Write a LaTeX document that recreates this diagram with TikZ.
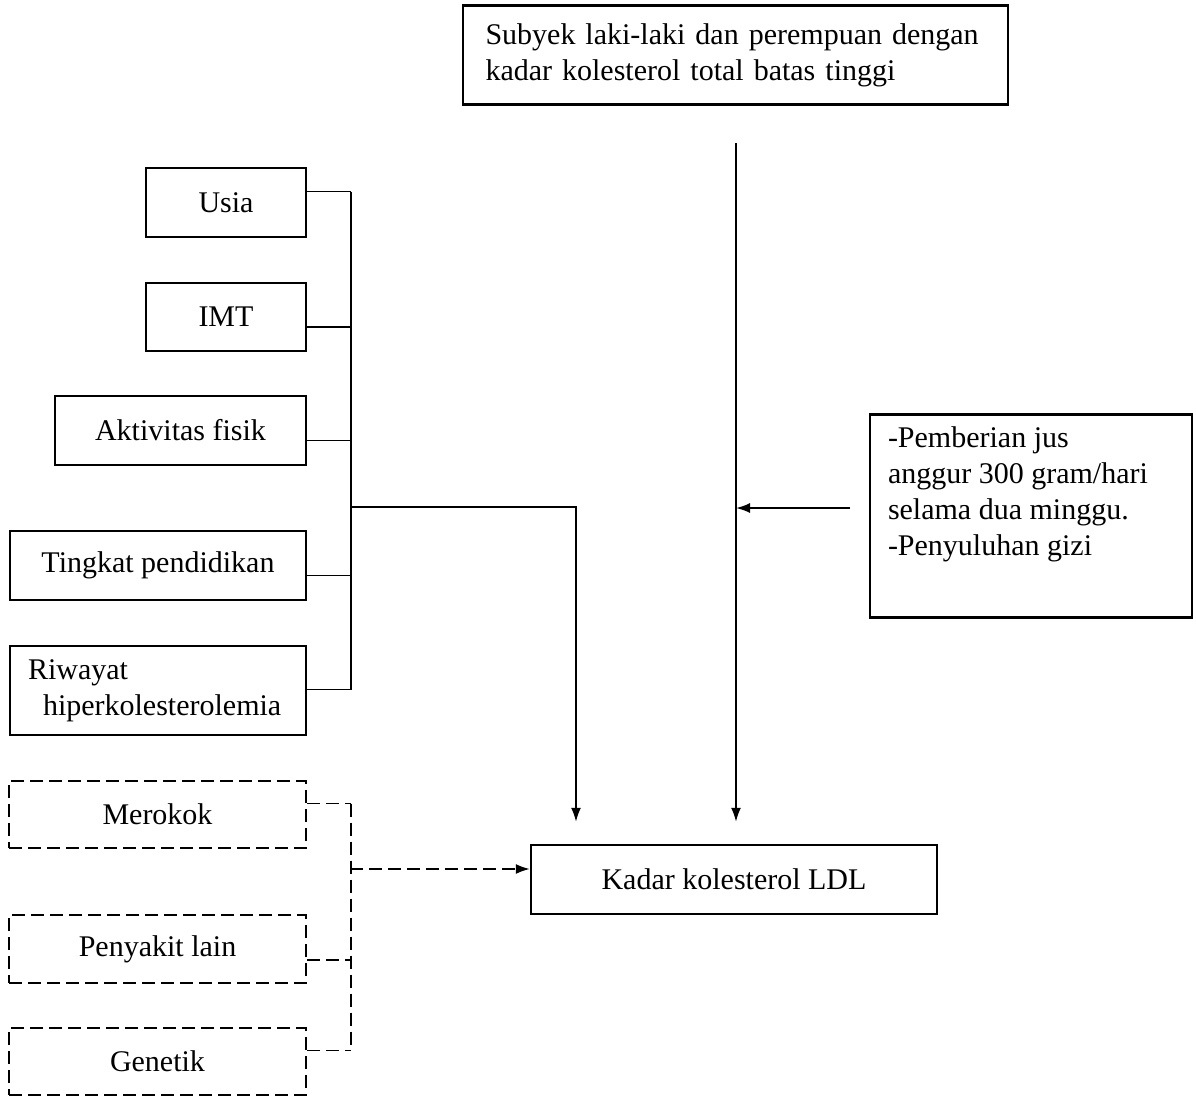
\documentclass[tikz,border=0pt]{standalone}
\usepackage{fontspec}
\setmainfont{Liberation Serif}
\usetikzlibrary{arrows.meta,calc}

\tikzset{
    kotak/.style={draw, line width=1.2pt, font=\fontsize{15}{18}\selectfont, inner sep=0pt},
    kotakputus/.style={kotak, dash pattern=on 6.5pt off 3pt},
    garis/.style={line width=0.9pt},
    putus/.style={garis, dash pattern=on 6.5pt off 3pt},
    panah/.style={-{Latex[length=7pt,width=5pt]}}
}

\begin{document}
\begin{tikzpicture}[x=0.5pt, y=-0.5pt]
    \useasboundingbox (0,0) rectangle (1196,1104);
    % kotak utama
    \node[kotak, minimum width=272.5pt, minimum height=49.5pt, text width=250pt, align=left](subyek) at (735.5,55){Subyek laki-laki dan perempuan dengan\\kadar kolesterol total batas tinggi};
    \node[kotak, inner xsep=9pt, inner ysep=6pt](perlakuan) at (1031,516){\parbox[c][89.5pt][t]{143pt}{-Pemberian jus\\anggur 300 gram/hari\\selama dua minggu.\\-Penyuluhan gizi}};
    \node[kotak, minimum width=203pt, minimum height=34.5pt](ldl) at (734,879.5){Kadar kolesterol LDL};
    % variabel perancu
    \node[kotak, minimum width=80pt, minimum height=34.5pt](usia) at (226,202.5){Usia};
    \node[kotak, minimum width=80pt, minimum height=34pt](imt) at (226,317){IMT};
    \node[kotak, minimum width=125.5pt, minimum height=34.5pt](aktivitas) at (180.5,430.5){Aktivitas fisik};
    \node[kotak, minimum width=148pt, minimum height=34.5pt](tingkat) at (158,565.5){Tingkat pendidikan};
    \node[kotak, minimum width=148pt, minimum height=44.5pt, text width=130pt, align=left](riwayat) at (158,690.5){Riwayat\\\hspace*{7.5pt}hiperkolesterolemia};
    \node[kotakputus, minimum width=148.5pt, minimum height=33.5pt](merokok) at (157.5,814.5){Merokok};
    \node[kotakputus, minimum width=148.5pt, minimum height=34pt](penyakit) at (157.5,949){Penyakit lain};
    \node[kotakputus, minimum width=148.5pt, minimum height=33.5pt](genetik) at (157.5,1061.5){Genetik};
    % garis penghubung
    \coordinate (atas) at (736,143);
    \coordinate (kanan) at (850,508);
    \coordinate (kiri) at (350,507);
    \coordinate (kiri2) at (350,869);
    \foreach \n/\dy in {usia/-11, imt/10, aktivitas/10, tingkat/10, riwayat/-1}
        \draw[garis]($(\n.east)+(0,\dy)$)--++(44,0);
    \draw[garis]($(usia.east)+(44,-11)$)--($(riwayat.east)+(44,-1)$);
    \draw[garis, panah, shorten >=11pt](kiri)-|([xshift=-79pt]ldl.north);
    \draw[garis, panah, shorten >=11pt](atas)--(atas |- ldl.north);
    \draw[garis, panah](kanan)--(kanan -| atas);
    \foreach \n/\dy in {merokok/-11, penyakit/11, genetik/-11}
        \draw[putus]($(\n.east)+(0,\dy)$)--++(44,0);
    \draw[putus]($(merokok.east)+(44,-11)$)--($(genetik.east)+(44,-11)$);
    \draw[putus, panah](kiri2)--(kiri2 -| ldl.west);
\end{tikzpicture}
\end{document}
